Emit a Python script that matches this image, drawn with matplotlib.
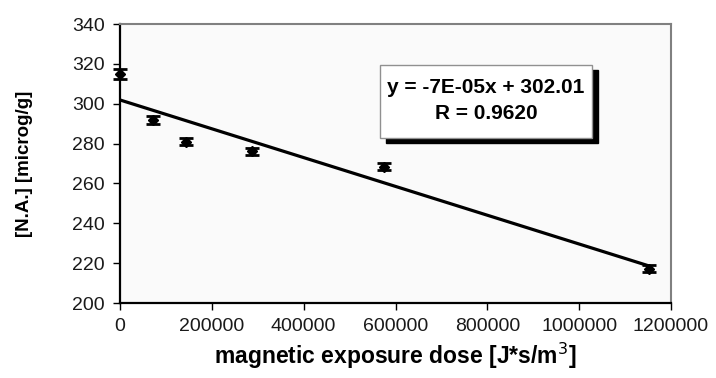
import numpy as np
import matplotlib
matplotlib.use("Agg")
import matplotlib.pyplot as plt
from matplotlib.patches import Rectangle

dose = [0, 72000, 144000, 288000, 576000, 1152000]
na = [315.0, 292.0, 281.0, 276.2, 268.5, 217.3]
err = [2.5, 2.0, 1.8, 1.8, 1.8, 1.8]
xticks = [0, 200000, 400000, 600000, 800000, 1000000, 1200000]
yticks = [200, 220, 240, 260, 280, 300, 320, 340]

plt.rcParams['font.family'] = ['Liberation Sans', 'DejaVu Sans']

fig = plt.figure(figsize=(7.16, 3.78), dpi=100)
ax = fig.add_axes([0.1676, 0.1984, 0.7696, 0.738])
ax.set_facecolor('#fafafa')

slope, intercept = np.polyfit(dose, na, 1)
xs = np.array([0, max(dose)])
ax.plot(xs, slope * xs + intercept, color='black', lw=2.3, zorder=2,
        solid_capstyle='butt')
ax.errorbar(dose, na, yerr=err, fmt='D', color='black', ms=5, capsize=4.8,
            capthick=2, elinewidth=1.5, zorder=3, clip_on=False)

ax.set_xlim(0, 1200000)
ax.set_ylim(200, 340)
ax.set_xticks(xticks)
ax.set_yticks(yticks)
ax.set_xticklabels([str(t) for t in xticks])
ax.tick_params(direction='out', length=5, width=1, labelsize=14, pad=6,
               labelcolor='#1a1a1a')
for s in ['left', 'bottom']:
    ax.spines[s].set_color('black')
    ax.spines[s].set_linewidth(1.6)
for s in ['top', 'right']:
    ax.spines[s].set_color('#808080')
    ax.spines[s].set_linewidth(1.5)

ax.set_xlabel('magnetic exposure dose [J*s/m$^{3}$]', fontsize=16.5,
              fontweight='bold', labelpad=4)
ax.set_ylabel('[N.A.] [microg/g]', fontsize=13.5, fontweight='bold')
ax.yaxis.set_label_coords(-0.158, 0.5)

# equation box with shadow
bx0, by0, bw, bh = 380 / 716, 65 / 378, 212 / 716, 73 / 378
fig.patches.append(Rectangle((bx0 + 6 / 716, 1 - by0 - bh - 5 / 378), bw, bh,
                             transform=fig.transFigure, facecolor='black',
                             edgecolor='black', zorder=5))
fig.patches.append(Rectangle((bx0, 1 - by0 - bh), bw, bh,
                             transform=fig.transFigure, facecolor='white',
                             edgecolor='#909090', lw=1, zorder=6))
fig.text(bx0 + bw / 2, 1 - by0 - bh * 0.31, 'y = -7E-05x + 302.01', ha='center',
         va='center', fontsize=15, fontweight='bold', zorder=7)
fig.text(bx0 + bw / 2, 1 - by0 - bh * 0.67, 'R = 0.9620', ha='center',
         va='center', fontsize=15, fontweight='bold', zorder=7)

fig.savefig('out.png', dpi=100)
